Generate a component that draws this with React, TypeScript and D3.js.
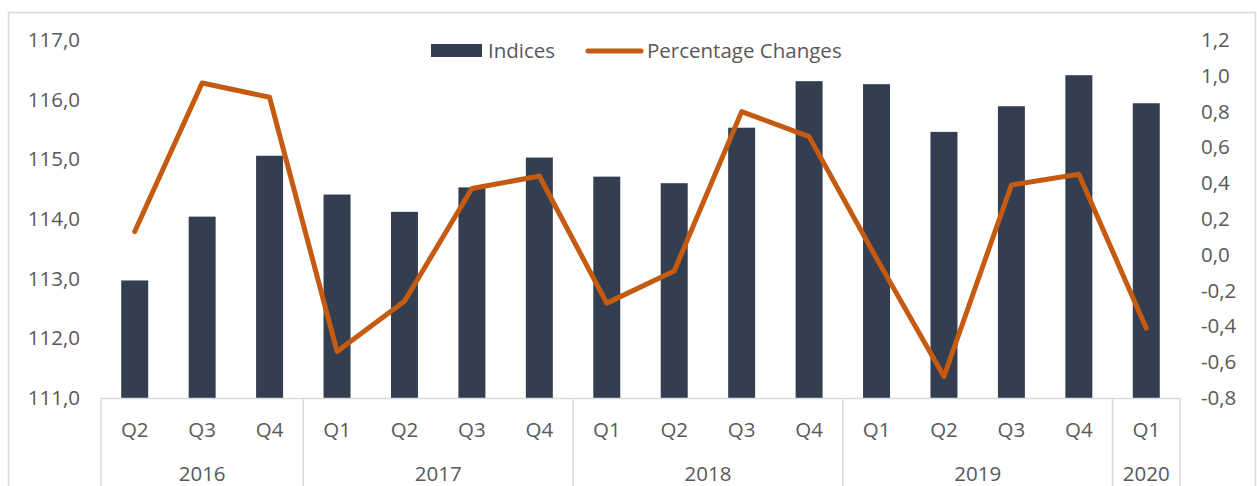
import { useEffect } from "react";
import { scaleBand, scaleLinear, line } from "d3";

const QUARTERS = ["Q2", "Q3", "Q4", "Q1", "Q2", "Q3", "Q4", "Q1", "Q2", "Q3", "Q4", "Q1", "Q2", "Q3", "Q4", "Q1"];
const YEARS = [
  { label: "2016", count: 3 },
  { label: "2017", count: 4 },
  { label: "2018", count: 4 },
  { label: "2019", count: 4 },
  { label: "2020", count: 1 },
];
const INDICES = [112.97, 114.04, 115.06, 114.41, 114.12, 114.53, 115.03, 114.71, 114.6, 115.53, 116.31, 116.26, 115.46, 115.89, 116.41, 115.94];
const CHANGES = [0.13, 0.96, 0.88, -0.54, -0.26, 0.37, 0.44, -0.27, -0.09, 0.8, 0.66, -0.02, -0.68, 0.39, 0.45, -0.41];
const LEFT_TICKS = [111, 112, 113, 114, 115, 116, 117];
const RIGHT_TICKS = [-0.8, -0.6, -0.4, -0.2, 0, 0.2, 0.4, 0.6, 0.8, 1.0, 1.2];

const BAR_COLOR = "#333F50";
const LINE_COLOR = "#C55A11";
const TEXT_COLOR = "#595959";
const RULE_COLOR = "#D9D9D9";
const FONT = "'Open Sans', sans-serif";

export default function App() {
  useEffect(() => {
    document.body.style.margin = "0";
  }, []);

  const width = 1257;
  const height = 486;
  const plotLeft = 101;
  const plotRight = 1180;
  const plotTop = 40;
  const plotBottom = 398;
  const fontSize = 20.5;

  const keys = QUARTERS.map((q, i) => `${i}`);
  const x = scaleBand().domain(keys).range([plotLeft, plotRight]).padding(0);
  const step = x.bandwidth();
  const barWidth = step * 0.4;

  const yLeft = scaleLinear().domain([111, 117]).range([plotBottom, plotTop]);
  const yRight = scaleLinear().domain([-0.8, 1.2]).range([plotBottom, plotTop]);

  const pathLine = line<number>()
    .x((_, i) => x(keys[i])! + step / 2)
    .y((d) => yRight(d));

  const fmt = (v: number, digits: number) => v.toFixed(digits).replace(".", ",");

  let start = 0;
  const yearSpans = YEARS.map((y) => {
    const span = { ...y, start };
    start += y.count;
    return span;
  });
  const edgeIdx = [0, ...yearSpans.map((s) => s.start + s.count)];

  return (
    <svg width={width} height={height} style={{ display: "block", fontFamily: FONT }}>
      <rect x={8.5} y={12.5} width={1247} height={520} fill="#fff" stroke={RULE_COLOR} strokeWidth={1.5} />

      {INDICES.map((v, i) => (
        <rect
          key={`bar-${i}`}
          x={x(keys[i])! + (step - barWidth) / 2}
          y={yLeft(v)}
          width={barWidth}
          height={plotBottom - yLeft(v)}
          fill={BAR_COLOR}
        />
      ))}

      <line x1={plotLeft} x2={plotRight} y1={plotBottom + 0.5} y2={plotBottom + 0.5} stroke={RULE_COLOR} strokeWidth={1.5} />
      {edgeIdx.map((k) => {
        const xx = k < keys.length ? x(keys[k])! : plotRight;
        return (
          <line key={`sep-${k}`} x1={xx} x2={xx} y1={plotBottom} y2={height} stroke={RULE_COLOR} strokeWidth={1.5} />
        );
      })}

      {QUARTERS.map((q, i) => (
        <text
          key={`q-${i}`}
          x={x(keys[i])! + step / 2}
          y={437}
          textAnchor="middle"
          fontSize={fontSize}
          fill={TEXT_COLOR}
        >
          {q}
        </text>
      ))}

      {yearSpans.map((s) => {
        const x0 = x(keys[s.start])!;
        const x1 = x0 + step * s.count;
        return (
          <text key={s.label} x={(x0 + x1) / 2} y={481} textAnchor="middle" fontSize={fontSize} fill={TEXT_COLOR}>
            {s.label}
          </text>
        );
      })}

      {LEFT_TICKS.map((t) => (
        <text key={`l-${t}`} x={80} y={yLeft(t) + 7} textAnchor="end" fontSize={fontSize} fill={TEXT_COLOR}>
          {fmt(t, 1)}
        </text>
      ))}

      {RIGHT_TICKS.map((t) => (
        <text key={`r-${t}`} x={1201} y={yRight(t) + 7} textAnchor="start" fontSize={fontSize} fill={TEXT_COLOR}>
          {fmt(t, 1)}
        </text>
      ))}

      <path
        d={pathLine(CHANGES) ?? ""}
        fill="none"
        stroke={LINE_COLOR}
        strokeWidth={5}
        strokeLinejoin="round"
        strokeLinecap="round"
      />

      <g>
        <rect x={431} y={44} width={51} height={13} fill={BAR_COLOR} />
        <text x={488} y={58} fontSize={fontSize} fill={TEXT_COLOR}>
          Indices
        </text>
        <line x1={588} x2={641} y1={51} y2={51} stroke={LINE_COLOR} strokeWidth={5} strokeLinecap="round" />
        <text x={647} y={58} fontSize={fontSize} fill={TEXT_COLOR}>
          Percentage Changes
        </text>
      </g>
    </svg>
  );
}
